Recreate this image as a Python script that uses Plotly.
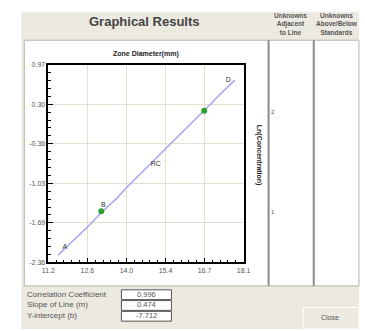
import plotly.graph_objects as go

W, H = 365, 331

# ---- data ----
line_x = [11.54, 12.2, 12.7, 13.07, 13.6, 14.0, 14.5, 15.0, 15.5, 16.0, 16.4, 16.71, 17.2, 17.79]
line_y = [-2.24, -1.94, -1.71, -1.52, -1.29, -1.08, -0.85, -0.61, -0.37, -0.14, 0.04, 0.20, 0.44, 0.71]
std_x = [13.07, 16.71]
std_y = [-1.50, 0.195]
lbl_text = ["A", "B", "RC", "D"]
lbl_x = [11.78, 13.14, 15.0, 17.56]
lbl_y = [-2.11, -1.40, -0.70, 0.71]
x_ticktext = ["11.2", "12.6", "14.0", "15.4", "16.7", "18.1"]
y_ticktext = ["-2.36", "-1.69", "-1.03", "-0.36", "0.30", "0.97"]
x_min, x_max = 11.2, 18.1
y_min, y_max = -2.36, 0.97
stat_labels = ["Correlation Coefficient", "Slope of Line (m)", "Y-intercept (b)"]
stat_values = ["0.996", "0.474", "-7.712"]
col_headers = ["Unknowns<br>Adjacent<br>to Line", "Unknowns<br>Above/Below<br>Standards"]
adj_labels = ["2", "1"]
adj_y_px = [110, 212]

def px(x):
    return x / W

def py(y):
    return 1 - y / H

BEIGE = "#ece9e1"
FONT = "Liberation Sans, Arial, sans-serif"

x_step = (x_max - x_min) / 5
y_step = (y_max - y_min) / 5
x_tickvals = [x_min + i * x_step for i in range(6)]
y_tickvals = [y_min + i * y_step for i in range(6)]

fig = go.Figure()
fig.add_trace(go.Scatter(x=line_x, y=line_y, mode="lines",
                         line=dict(color="#a5a5ee", width=1.5), hoverinfo="skip"))
fig.add_trace(go.Scatter(x=std_x, y=std_y, mode="markers",
                         marker=dict(color="#2e9e2e", size=6), hoverinfo="skip"))
fig.add_trace(go.Scatter(x=lbl_x, y=lbl_y, mode="text", text=lbl_text,
                         textfont=dict(size=7, color="#333", family=FONT), hoverinfo="skip"))

shapes = []
def rect(x0, y0, x1, y1, fill, line=None, lw=0):
    shapes.append(dict(type="rect", xref="paper", yref="paper",
                       x0=px(x0), x1=px(x1), y0=py(y1), y1=py(y0),
                       fillcolor=fill, line=dict(color=line or fill, width=lw), layer="below"))

def vline(x, y0, y1, color, w):
    shapes.append(dict(type="line", xref="paper", yref="paper",
                       x0=px(x), x1=px(x), y0=py(y1), y1=py(y0),
                       line=dict(color=color, width=w), layer="below"))

rect(15, 8, 366, 332, BEIGE)
rect(18, 37, 366, 288, "#ffffff", "#b8b4aa", 1)
vline(272, 37, 288, "#8a8a8a", 2)
vline(319, 37, 288, "#8a8a8a", 2)
# value boxes
box_y = [(292, 302), (303, 313), (314, 324)]
for (a, b) in box_y:
    rect(119, a, 171, b, "#ffffff", "#555555", 1)
# close button
rect(308, 310, 366, 332, BEIGE, "#ffffff", 1)

ann = []
def text(x, y, s, size, bold=False, color="#333", xanchor="center", angle=0):
    if bold:
        s = "<b>" + s + "</b>"
    ann.append(dict(xref="paper", yref="paper", x=px(x), y=py(y), text=s,
                    showarrow=False, xanchor=xanchor, yanchor="middle",
                    font=dict(size=size, color=color, family=FONT), textangle=angle))

text(143, 18, "Graphical Results", 13, bold=True, color="#444")
text(145, 51, "Zone Diameter(mm)", 7, bold=True, color="#222")
text(262, 155, "Ln(Concentration)", 7, bold=True, color="#222", angle=90)
text(295, 20, col_headers[0], 6.5, bold=True, color="#555")
text(343, 20, col_headers[1], 6.5, bold=True, color="#555")
for s, yy in zip(adj_labels, adj_y_px):
    text(277, yy, s, 6, color="#555")
lab_y = [297, 307, 318]
for s, v, yy in zip(stat_labels, stat_values, lab_y):
    text(19, yy, s, 8, color="#555", xanchor="left")
    text(145, yy, v, 7.5, color="#555")
text(336, 320, "Close", 7, color="#555")

fig.update_layout(
    width=W, height=H, margin=dict(l=0, r=0, t=0, b=0),
    paper_bgcolor="#ffffff", plot_bgcolor="#ffffff",
    showlegend=False, shapes=shapes, annotations=ann,
    xaxis=dict(domain=[px(43), px(246)], range=[x_min, x_max],
               tickvals=x_tickvals, ticktext=x_ticktext,
               ticks="inside", ticklen=5, tickcolor="#000",
               showline=True, mirror=True, linecolor="#000", linewidth=1.5,
               showgrid=True, gridcolor="#e6dfd0", gridwidth=1, zeroline=False,
               tickfont=dict(size=7, color="#555", family=FONT),
               minor=dict(ticks="inside", ticklen=3, tickcolor="#000",
                          tick0=x_min, dtick=x_step / 5, showgrid=False)),
    yaxis=dict(domain=[py(264), py(62)], range=[y_min, y_max],
               tickvals=y_tickvals, ticktext=y_ticktext,
               ticks="inside", ticklen=5, tickcolor="#000",
               showline=True, mirror=True, linecolor="#000", linewidth=1.5,
               showgrid=True, gridcolor="#e6dfd0", gridwidth=1, zeroline=False,
               tickfont=dict(size=7, color="#555", family=FONT),
               minor=dict(ticks="inside", ticklen=3, tickcolor="#000",
                          tick0=y_min, dtick=y_step / 5, showgrid=False)),
)

fig.write_html("out.html", config={"displayModeBar": False},
               post_script="document.body.style.margin='0';document.body.style.overflow='hidden';")
